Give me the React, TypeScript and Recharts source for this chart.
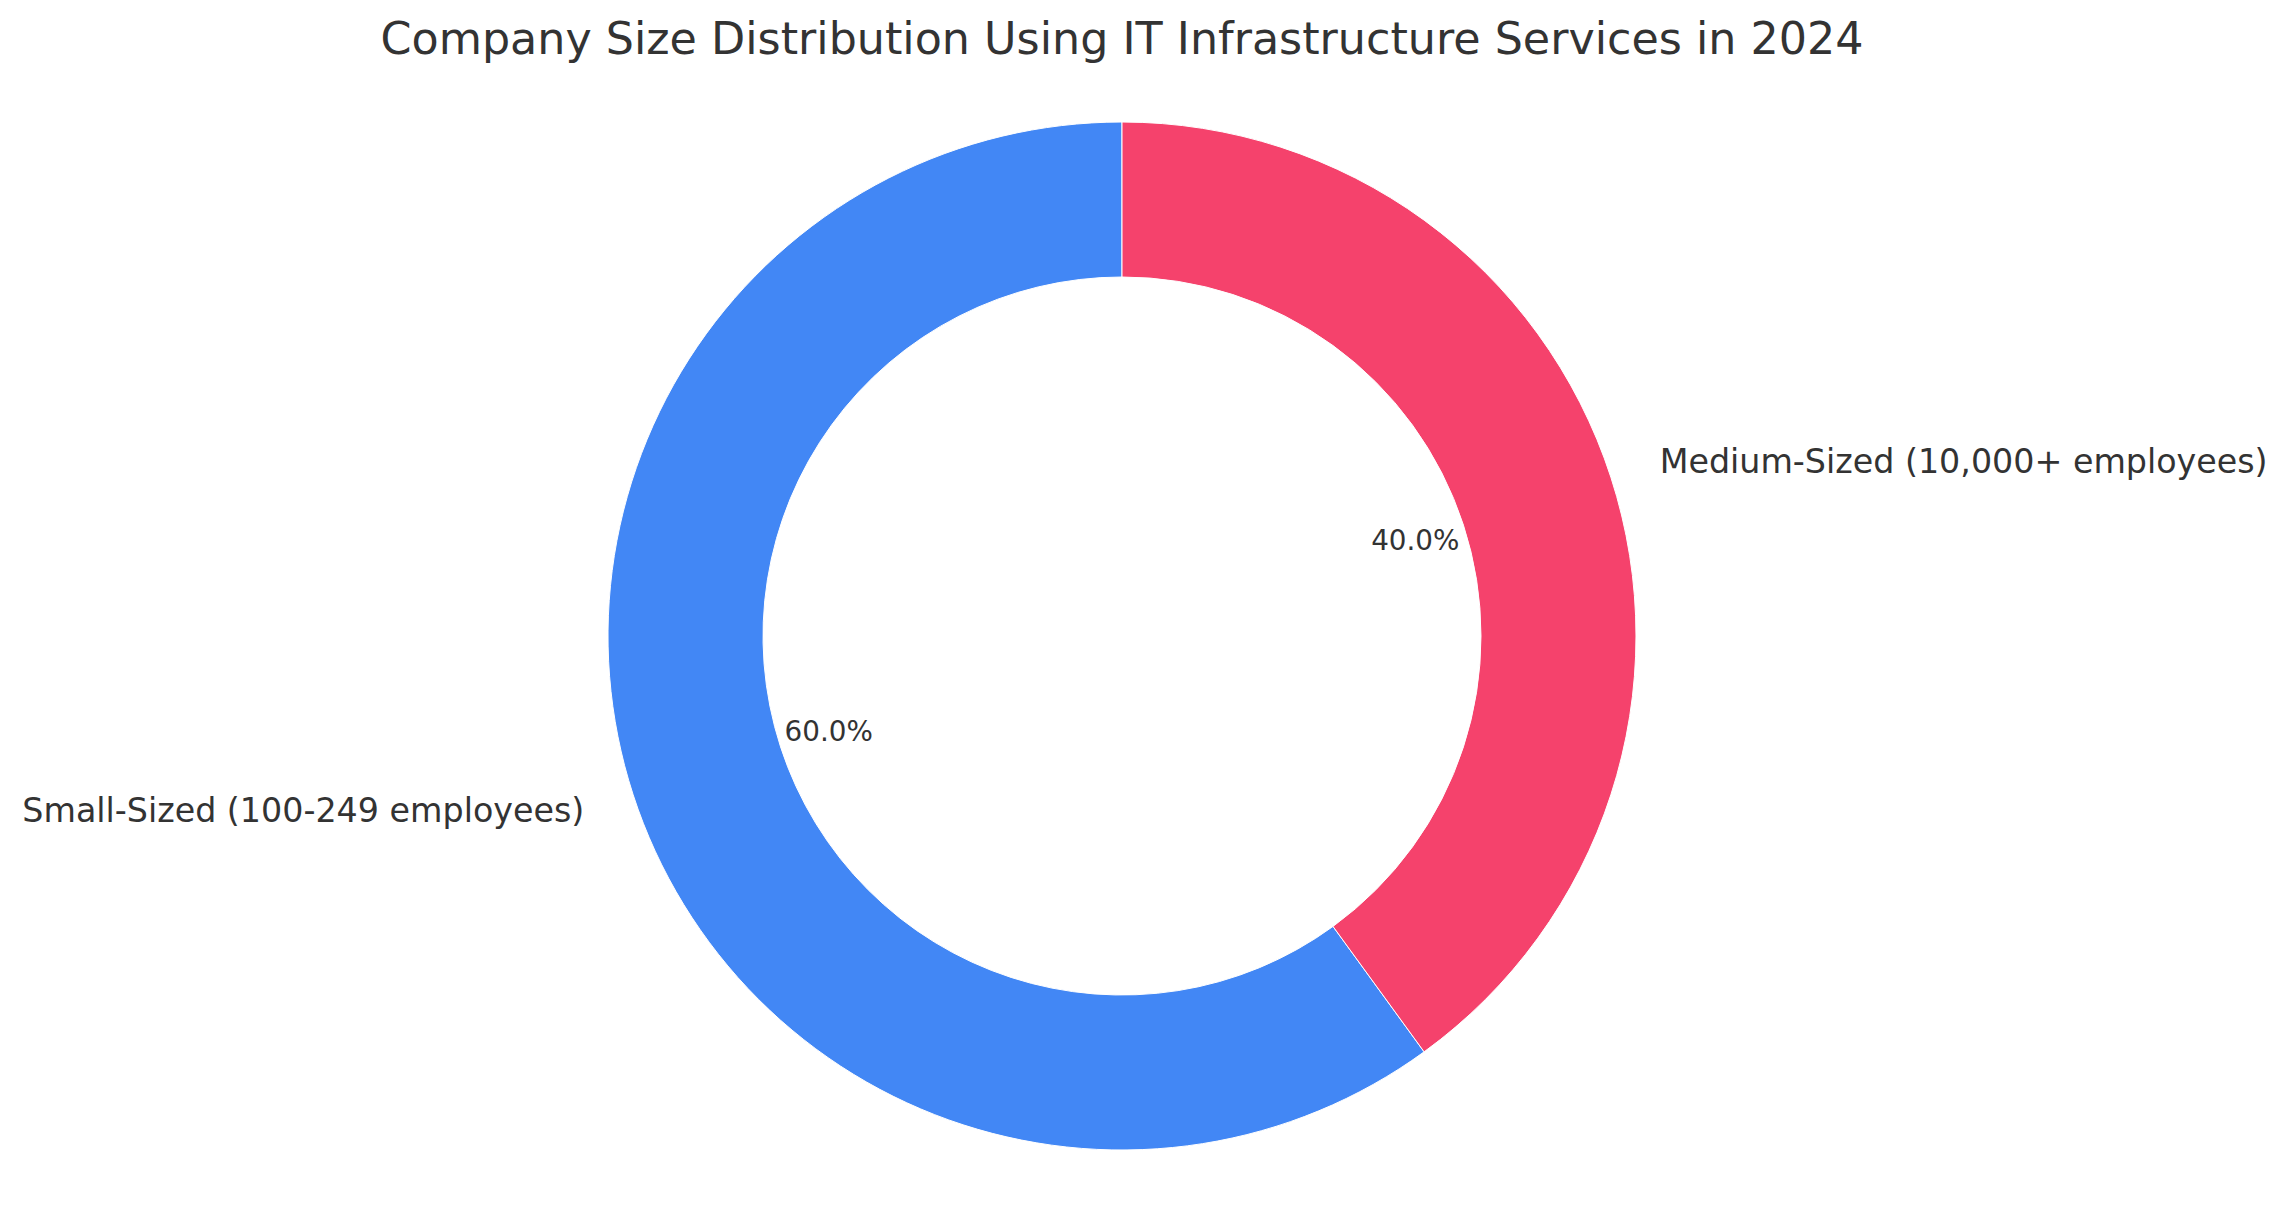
import React from "react";
import { PieChart, Pie, Cell } from "recharts";

const TITLE = "Company Size Distribution Using IT Infrastructure Services in 2024";

// slices in drawing order (counter-clockwise from 12 o'clock)
const categories = ["Small-Sized (100-249 employees)", "Medium-Sized (10,000+ employees)"];
const shares = [60, 40];
const colors = ["#4287f5", "#f5426c"];

const data = categories.map((name, i) => ({ name, value: shares[i] }));

const RADIAN = Math.PI / 180;
const FONT = "'DejaVu Sans', sans-serif";
const TEXT_COLOR = "#333333";

interface SliceLabelProps {
  cx: number;
  cy: number;
  midAngle: number;
  outerRadius: number;
  percent: number;
  name: string;
}

/** Name outside the ring (1.1 r) and percentage inside it (0.6 r), like matplotlib. */
function SliceLabel({ cx, cy, midAngle, outerRadius, percent, name }: SliceLabelProps) {
  const cos = Math.cos(-midAngle * RADIAN);
  const sin = Math.sin(-midAngle * RADIAN);
  const nx = cx + outerRadius * 1.1 * cos;
  const ny = cy + outerRadius * 1.1 * sin;
  const px = cx + outerRadius * 0.6 * cos;
  const py = cy + outerRadius * 0.6 * sin;
  return (
    <g>
      <text
        x={nx}
        y={ny}
        textAnchor={cos >= 0 ? "start" : "end"}
        dominantBaseline="central"
        fontFamily={FONT}
        fontSize={33.3}
        fill={TEXT_COLOR}
      >
        {name}
      </text>
      <text
        x={px}
        y={py}
        textAnchor="middle"
        dominantBaseline="central"
        fontFamily={FONT}
        fontSize={27.8}
        fill={TEXT_COLOR}
      >
        {(percent * 100).toFixed(1)}%
      </text>
    </g>
  );
}

export default function App() {
  return (
    <div
      style={{
        position: "fixed",
        left: 0,
        top: 0,
        width: 2290,
        height: 1230,
        background: "#ffffff",
      }}
    >
      <div
        style={{
          position: "absolute",
          left: 0,
          top: 17,
          width: 2244,
          textAlign: "center",
          fontFamily: FONT,
          fontSize: 44.4,
          lineHeight: "44.4px",
          color: TEXT_COLOR,
          whiteSpace: "nowrap",
        }}
      >
        {TITLE}
      </div>
      <PieChart width={2290} height={1230} margin={{ top: 0, right: 0, bottom: 0, left: 0 }}>
        <Pie
          data={data}
          dataKey="value"
          nameKey="name"
          cx={1122}
          cy={636}
          innerRadius={359}
          outerRadius={514}
          startAngle={90}
          endAngle={450}
          stroke="#ffffff"
          strokeWidth={1}
          label={(props: any) => <SliceLabel {...props} />}
          labelLine={false}
          isAnimationActive={false}
        >
          {data.map((d, i) => (
            <Cell key={d.name} fill={colors[i]} />
          ))}
        </Pie>
      </PieChart>
    </div>
  );
}
